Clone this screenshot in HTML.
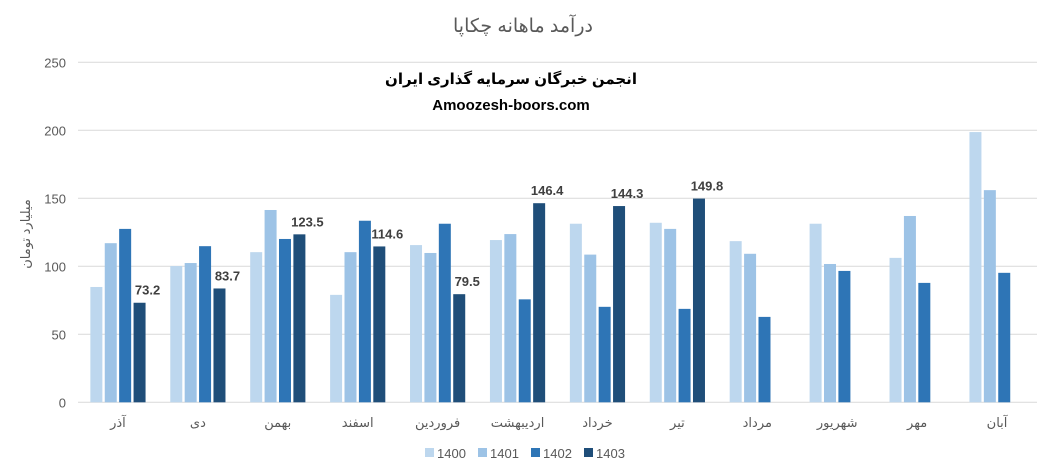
<!DOCTYPE html>
<html><head><meta charset="utf-8"><style>
body{margin:0;background:#fff;}
svg{display:block;font-family:"Liberation Sans","DejaVu Sans",sans-serif;}
</style></head><body>
<svg id="chart" width="1047" height="475">
<text x="523" y="32" text-anchor="middle" font-size="19" fill="#595959">درآمد ماهانه چکاپا</text>
<text x="511" y="84" text-anchor="middle" font-size="15" font-weight="bold" fill="#000">انجمن خبرگان سرمایه گذاری ایران</text>
<text x="511" y="110" text-anchor="middle" font-size="15" font-weight="bold" fill="#000">Amoozesh-boors.com</text>
<text transform="translate(30,234) rotate(-90)" text-anchor="middle" font-size="13" fill="#595959">میلیارد تومان</text>
<g id="grid"></g><g id="bars"></g><g id="labels"></g>
<g id="legend"></g>
</svg>
<script>
const categories=["آذر","دی","بهمن","اسفند","فروردین","اردیبهشت","خرداد","تیر","مرداد","شهریور","مهر","آبان"];
const seriesNames=["1400","1401","1402","1403"];
const s1400=[84.8,100.2,110.4,79,115.6,119.3,131.3,132,118.5,131.3,106.2,198.7];
const s1401=[117,102.4,141.4,110.4,109.8,123.7,108.6,127.5,109.2,101.7,137,156];
const s1402=[127.5,114.8,120.1,133.5,131.3,75.7,70.2,68.7,62.8,96.6,87.8,95.2];
const s1403=[73.2,83.7,123.5,114.6,79.5,146.4,144.3,149.8,null,null,null,null];
const yTicks=[0,50,100,150,200,250];
const colors=["#bdd7ee","#9dc3e6","#2e75b6","#1f4e79"];
const NS="http://www.w3.org/2000/svg";
const x0=78,x1=1037,y0=402.3,pxPer=1.36;
const bw=(x1-x0)/categories.length;
const yS=v=>y0-v*pxPer;
const xC=i=>x0+bw*(i+0.5);
function mk(tag,attrs,parent){const e=document.createElementNS(NS,tag);for(const k in attrs)e.setAttribute(k,attrs[k]);parent.appendChild(e);return e;}
const grid=document.getElementById('grid'),bars=document.getElementById('bars'),labels=document.getElementById('labels'),legend=document.getElementById('legend');
yTicks.forEach(t=>{
 const l=mk('line',{x1:x0,x2:x1,y1:yS(t),y2:yS(t),stroke:'#d9d9d9','stroke-width':1},grid);
 
 
 const tx=mk('text',{x:66,y:yS(t)+5,'text-anchor':'end','font-size':13,fill:'#595959'},grid);
 tx.textContent=t;
 
 
});
const series=[s1400,s1401,s1402,s1403];
const barW=12,gap=2.4;
categories.forEach((c,i)=>{
 const cx=xC(i);
 series.forEach((s,k)=>{
  const v=s[i]; if(v==null)return;
  const bx=cx-(4*barW+3*gap)/2+k*(barW+gap);
  const r=mk('rect',{x:bx,y:yS(v),width:barW,height:v*pxPer,fill:colors[k]},bars);
  
  
  if(k===3){
   const t=mk('text',{x:bx+barW/2+8,y:yS(v)-8,'text-anchor':'middle','font-size':13,'font-weight':'bold',fill:'#404040'},labels);
   t.textContent=v.toFixed(1);
   
   
  }
 });
 const t=mk('text',{x:cx,y:427,'text-anchor':'middle','font-size':13,fill:'#595959'},labels);
 t.textContent=c;
 
 
});
seriesNames.forEach((n,k)=>{
 const lx=425+k*53;
 const r=mk('rect',{x:lx,y:448,width:9,height:9,fill:colors[k]},legend);
 
 
 const t=mk('text',{x:lx+12,y:458,'font-size':13,fill:'#595959'},legend);
 t.textContent=n;
 
 
});
</script>
</body></html>
